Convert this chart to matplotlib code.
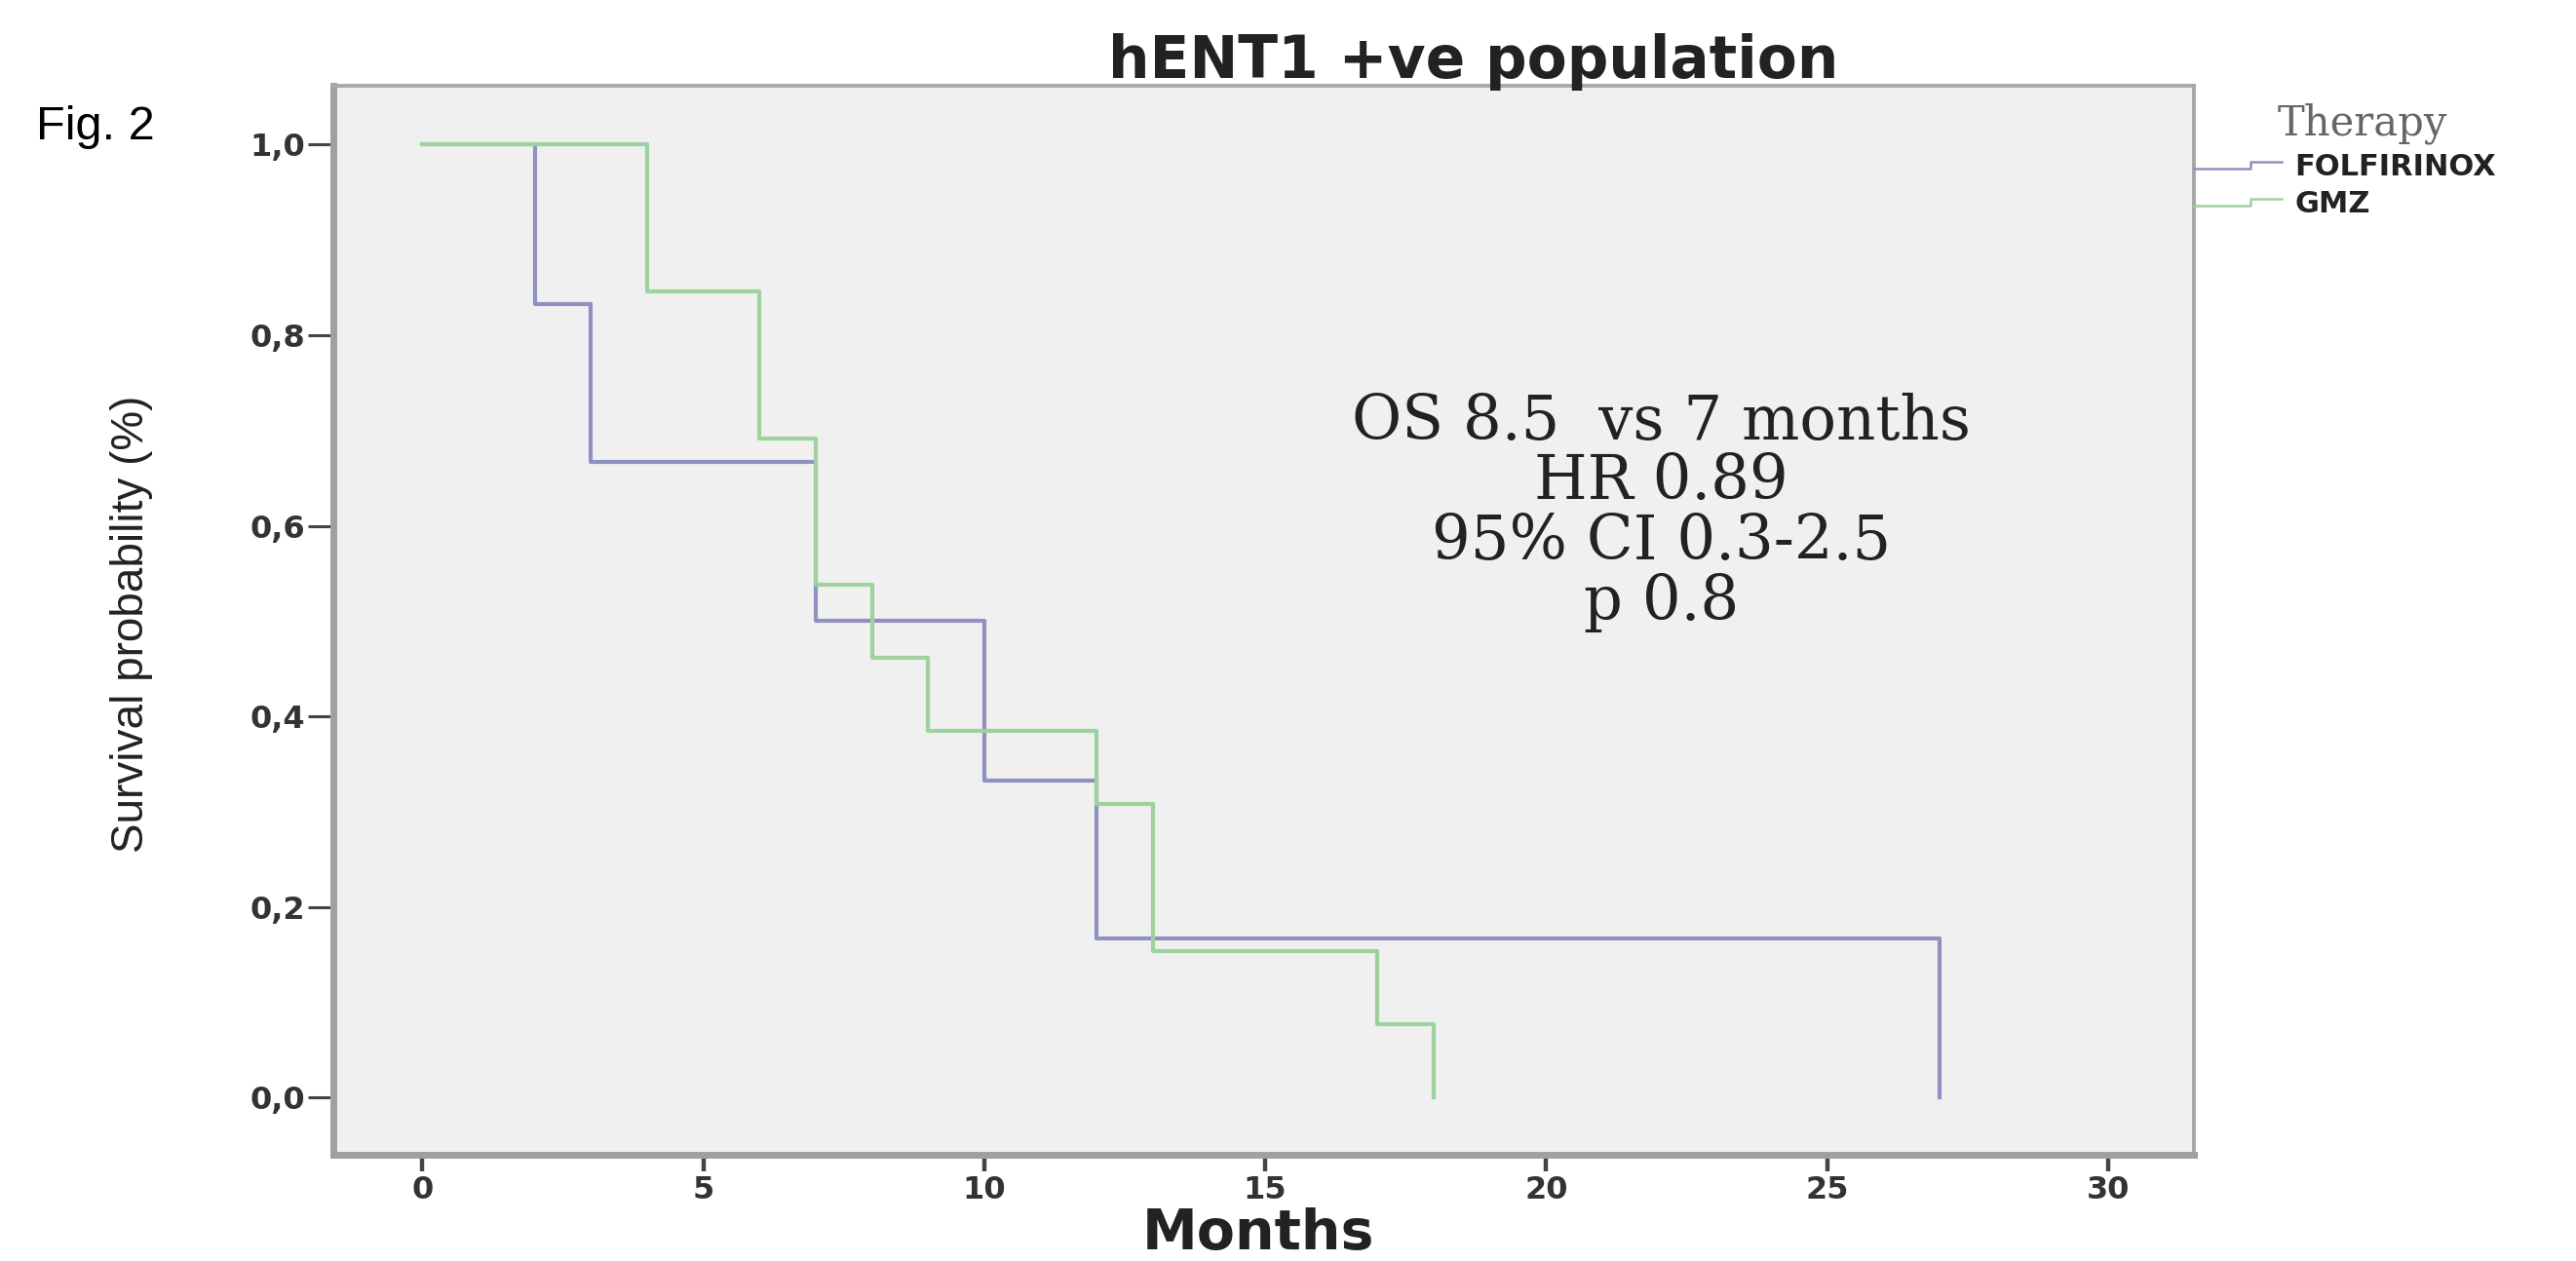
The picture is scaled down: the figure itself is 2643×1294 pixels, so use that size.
import matplotlib
matplotlib.use("Agg")
import matplotlib.pyplot as plt
from matplotlib.lines import Line2D
from matplotlib.legend_handler import HandlerBase

# Kaplan-Meier steps (months, survival probability)
folfTimes = [0, 2, 3, 7, 10, 12, 27]
folfSurv = [1.0, 0.833, 0.667, 0.5, 0.333, 0.167, 0.0]
gmzTimes = [0, 4, 6, 7, 8, 9, 12, 13, 17, 18]
gmzSurv = [1.0, 0.846, 0.692, 0.538, 0.462, 0.385, 0.308, 0.154, 0.077, 0.0]

therapyNames = ["FOLFIRINOX", "GMZ"]
therapyColors = ["#8f91c2", "#9fd19f"]

xTicks = [0, 5, 10, 15, 20, 25, 30]
yTicks = [0.0, 0.2, 0.4, 0.6, 0.8, 1.0]
yTickLabels = ["0,0", "0,2", "0,4", "0,6", "0,8", "1,0"]

statLines = ["OS 8.5  vs 7 months", "HR 0.89", "95% CI 0.3-2.5", "p 0.8"]


# small step icon used in the legend, like the SPSS output
class StepHandler(HandlerBase):
    def create_artists(self, legend, orig_handle, xdescent, ydescent,
                       width, height, fontsize, trans):
        xs = [-xdescent, 0.65 * width, 0.65 * width, width]
        ys = [0.3 * height, 0.3 * height, 0.65 * height, 0.65 * height]
        line = Line2D(xs, ys, color=orig_handle.get_color(), lw=1.8, transform=trans)
        return [line]


fig = plt.figure(figsize=(26.43, 12.94), dpi=100)
ax = fig.add_axes([0.1295, 0.0842, 0.722, 0.848])
ax.set_facecolor("#f0f0f0")

handles = []
for times, surv, name, col in zip([folfTimes, gmzTimes], [folfSurv, gmzSurv],
                                  therapyNames, therapyColors):
    h, = ax.step(times, surv, where="post", color=col, lw=3.0, label=name)
    handles.append(h)

ax.set_xlim(-1.58, 31.52)
ax.set_ylim(-0.060, 1.062)
ax.set_xticks(xTicks)
ax.set_xticklabels([str(t) for t in xTicks])
ax.set_yticks(yTicks)
ax.set_yticklabels(yTickLabels)
ax.tick_params(axis="both", direction="out", color="#444444",
               labelsize=23, labelcolor="#333333")
ax.tick_params(axis="y", length=19, width=2.2, pad=2)
ax.tick_params(axis="x", length=12, width=3.2, pad=3)
for lab in ax.get_xticklabels() + ax.get_yticklabels():
    lab.set_fontweight("bold")

for side in ["left", "bottom"]:
    ax.spines[side].set_linewidth(5)
    ax.spines[side].set_color("#a0a0a0")
for side in ["top", "right"]:
    ax.spines[side].set_linewidth(2.8)
    ax.spines[side].set_color("#a8a8a8")

# stats text in serif, centred
for i, txt in enumerate(statLines):
    fig.text(0.645, 0.6654 - i * 0.0479, txt, ha="center", va="center",
             family="DejaVu Serif", fontsize=45, color="#222222")

fig.text(0.572, 0.951, "hENT1 +ve population", ha="center", va="center",
         fontsize=43, fontweight="bold", color="#222222")
fig.text(0.051, 0.505, "Survival probability (%)", rotation=90, ha="center",
         va="center", family="Liberation Sans", fontsize=33, color="#222222")
fig.text(0.4886, 0.021, "Months", ha="center", va="center", fontsize=41,
         fontweight="bold", color="#222222")
fig.text(0.014, 0.899, "Fig. 2", ha="left", va="center", family="Liberation Sans",
         fontsize=35, color="black")

fig.text(0.884, 0.902, "Therapy", ha="left", va="center", family="DejaVu Serif",
         fontsize=30, color="#666666")
leg = fig.legend(handles=handles, labels=therapyNames, loc="upper left",
                 bbox_to_anchor=(0.8515, 0.879), frameon=False,
                 handler_map={Line2D: StepHandler()}, handlelength=2.95,
                 handletextpad=0.45, labelspacing=0.3, borderaxespad=0,
                 borderpad=0, prop={"weight": "bold", "size": 22})
for t in leg.get_texts():
    t.set_color("#222222")

plt.savefig("out.png", dpi=100, facecolor="white")
